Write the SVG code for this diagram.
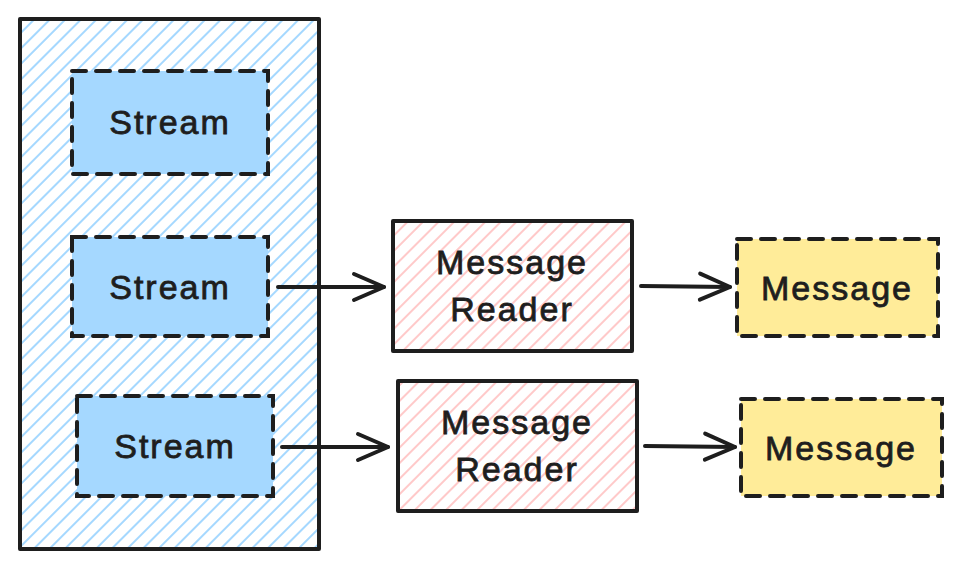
<svg xmlns="http://www.w3.org/2000/svg" width="961" height="569" viewBox="0 0 961 569">
<defs>
<pattern id="hb" patternUnits="userSpaceOnUse" width="11" height="11" patternTransform="rotate(45)">
<line x1="5" y1="0" x2="5" y2="11" stroke="#a5d8ff" stroke-width="2"/>
</pattern>
<pattern id="hr" patternUnits="userSpaceOnUse" width="11" height="11" patternTransform="rotate(45)">
<line x1="5" y1="0" x2="5" y2="11" stroke="#ffc9c9" stroke-width="2"/>
</pattern>
<marker id="ah" viewBox="0 0 36 36" refX="33" refY="18" markerWidth="36" markerHeight="36" markerUnits="userSpaceOnUse" orient="auto">
<path d="M3,5 L33,18 L3,31" fill="none" stroke="#1e1e1e" stroke-width="4" stroke-linecap="round" stroke-linejoin="round"/>
</marker>
</defs>
<style>
.solid{stroke:#1e1e1e;stroke-width:4;stroke-linejoin:round}
.dash{stroke:#1e1e1e;stroke-width:4;stroke-dasharray:14 10;stroke-linecap:round}
.stream{fill:#a5d8ff}
.msg{fill:#ffec99}
.t{font-family:"Liberation Sans",Arial,sans-serif;font-size:34px;fill:#1e1e1e;text-anchor:middle;letter-spacing:2px;stroke:#1e1e1e;stroke-width:0.8px}
.c{fill:none;stroke:#1e1e1e;stroke-width:4;stroke-linecap:round}
</style>
<rect width="961" height="569" fill="#ffffff"/>
<g id="container">
<rect x="20" y="19" width="299" height="530" fill="url(#hb)" class="solid"/>
</g>
<g id="stream1">
<rect x="72" y="71" width="196" height="103" class="stream dash"/>
<text x="170" y="134" class="t">Stream</text>
</g>
<g id="stream2">
<rect x="72" y="237" width="196" height="99" class="stream dash"/>
<text x="170" y="299" class="t">Stream</text>
</g>
<g id="stream3">
<rect x="77" y="396" width="196" height="100" class="stream dash"/>
<text x="175" y="458" class="t">Stream</text>
</g>
<g id="reader1">
<rect x="393" y="221" width="239" height="130" fill="url(#hr)" class="solid"/>
<text x="512" y="274" class="t">Message</text>
<text x="512" y="321" class="t">Reader</text>
</g>
<g id="reader2">
<rect x="398" y="381" width="239" height="130" fill="url(#hr)" class="solid"/>
<text x="517" y="434" class="t">Message</text>
<text x="517" y="481" class="t">Reader</text>
</g>
<g id="message1">
<rect x="737" y="239" width="201" height="97" class="msg dash"/>
<text x="837" y="300" class="t">Message</text>
</g>
<g id="message2">
<rect x="741" y="399" width="201" height="97" class="msg dash"/>
<text x="841" y="460" class="t">Message</text>
</g>
<g id="connectors">
<line x1="278" y1="287" x2="384" y2="287" class="c" marker-end="url(#ah)"/>
<line x1="282" y1="447" x2="388" y2="447" class="c" marker-end="url(#ah)"/>
<line x1="641" y1="286" x2="730" y2="287" class="c" marker-end="url(#ah)"/>
<line x1="645" y1="446" x2="735" y2="447" class="c" marker-end="url(#ah)"/>
</g>
</svg>
